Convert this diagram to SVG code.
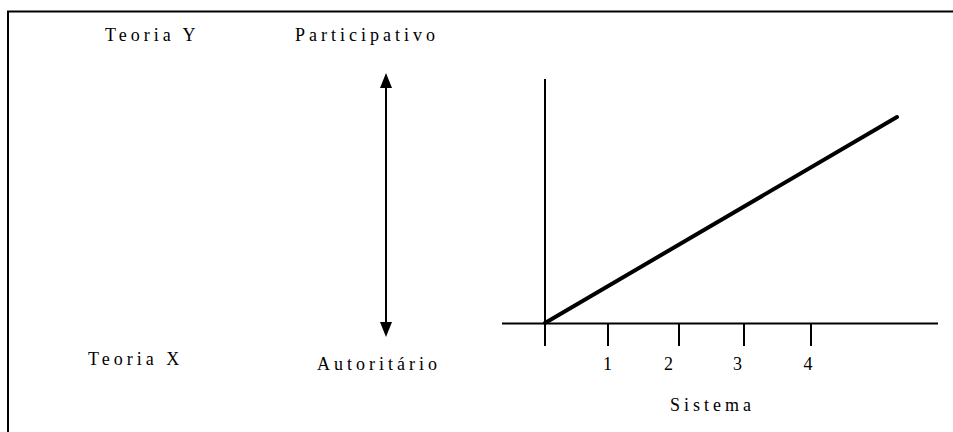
<svg xmlns="http://www.w3.org/2000/svg" width="953" height="432" viewBox="0 0 953 432">
<defs>
<style>
text{font-family:'Liberation Serif','Times New Roman',Times,serif;fill:#000}
.t{font-size:18px;letter-spacing:4px}
.d{font-size:18px;text-anchor:middle}
.ln{stroke:#000;stroke-width:2;fill:none}
</style>
</defs>
<rect width="953" height="432" fill="#fff"/>
<path class="ln" d="M8,432 V11.5 H953"/>
<g id="teoria-y"><text class="t" x="105" y="41">Teoria Y</text></g>
<g id="participativo"><text class="t" x="295" y="41">Participativo</text></g>
<g id="teoria-x"><text class="t" x="88" y="365">Teoria X</text></g>
<g id="autoritario"><text class="t" x="317" y="370">Autoritário</text></g>
<g id="sistema"><text class="t" x="670" y="411">Sistema</text></g>
<g id="connectors">
<line class="ln" x1="386" y1="86" x2="386" y2="324"/>
<polygon points="386,73 380,88 392,88" fill="#000"/>
<polygon points="386,337 380,322 392,322" fill="#000"/>
<line class="ln" x1="545" y1="79" x2="545" y2="346"/>
<line class="ln" x1="502" y1="323.5" x2="938" y2="323.5"/>
<line class="ln" x1="608" y1="323" x2="608" y2="346"/>
<line class="ln" x1="679" y1="323" x2="679" y2="346"/>
<line class="ln" x1="744" y1="323" x2="744" y2="346"/>
<line class="ln" x1="811" y1="323" x2="811" y2="346"/>
<line x1="545" y1="323" x2="897" y2="117" stroke="#000" stroke-width="4" stroke-linecap="round"/>
</g>
<g id="ticks">
<text class="d" x="607.5" y="370">1</text>
<text class="d" x="668.5" y="370">2</text>
<text class="d" x="737.5" y="370">3</text>
<text class="d" x="808" y="370">4</text>
</g>
</svg>
